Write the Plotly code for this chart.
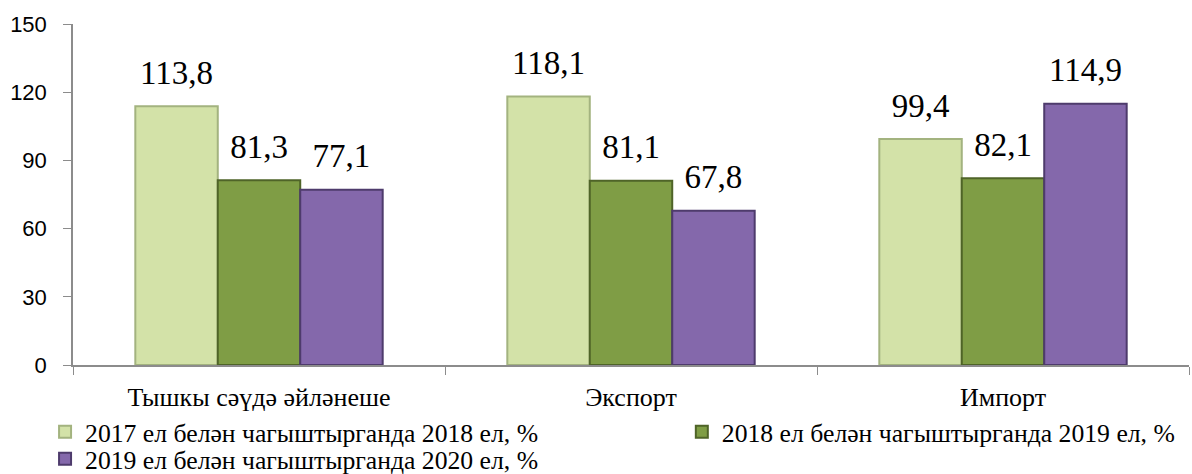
import plotly.graph_objects as go

categories = ["Тышкы сәүдә әйләнеше", "Экспорт", "Импорт"]
series_names = [
    "2017 ел белән чагыштырганда 2018 ел, %",
    "2018 ел белән чагыштырганда 2019 ел, %",
    "2019 ел белән чагыштырганда 2020 ел, %",
]
values_2018 = [113.8, 118.1, 99.4]
values_2019 = [81.3, 81.1, 82.1]
values_2020 = [77.1, 67.8, 114.9]
y_ticks = [0, 30, 60, 90, 120, 150]

fills = ["#d3e2a8", "#7f9d45", "#8468ab"]
edges = ["#a3b37f", "#4f6428", "#4e3b6c"]
legend_ids = ["legend", "legend2", "legend3"]

all_values = [values_2018, values_2019, values_2020]

fig = go.Figure()
for name, vals, fc, ec, lg in zip(series_names, all_values, fills, edges, legend_ids):
    fig.add_trace(go.Bar(
        x=categories, y=vals, name=name,
        marker=dict(color=fc, line=dict(color=ec, width=2)),
        legend=lg, offsetgroup=name,
    ))
# value labels (invisible markers set the gap above each bar)
for name, vals in zip(series_names, all_values):
    fig.add_trace(go.Scatter(
        x=categories, y=vals, mode="markers+text",
        text=[f"{v:.1f}".replace(".", ",") for v in vals],
        textposition="top center",
        textfont=dict(family="Liberation Serif", size=33, color="#000000"),
        marker=dict(size=21, color="rgba(0,0,0,0)"),
        offsetgroup=name, showlegend=False, hoverinfo="skip",
        cliponaxis=False,
    ))

legend_font = dict(family="Liberation Serif", size=25.7, color="#000000")
common_legend = dict(
    xref="container", yref="container", xanchor="left", yanchor="middle",
    font=legend_font, bgcolor="rgba(0,0,0,0)", itemwidth=30,
)

fig.update_layout(
    width=1192, height=474,
    margin=dict(l=73, r=3, t=24, b=109, autoexpand=False),
    paper_bgcolor="white", plot_bgcolor="white",
    barmode="group", bargap=0.335, bargroupgap=0,
    scattermode="group", scattergap=0.335,
    showlegend=True,
    legend=dict(x=0.0378, y=0.0886, **common_legend),
    legend2=dict(x=0.572, y=0.0886, **common_legend),
    legend3=dict(x=0.0378, y=0.0316, **common_legend),
    xaxis=dict(
        showline=True, linecolor="#8c8c8c", linewidth=1.5,
        ticks="outside", tickson="boundaries", ticklen=8, tickcolor="#8c8c8c",
        tickfont=dict(family="Liberation Serif", size=26, color="#000000"),
        ticklabelstandoff=8, automargin=False,
        showgrid=False,
    ),
    yaxis=dict(
        range=[0, 150], tickvals=y_ticks,
        showline=True, linecolor="#8c8c8c", linewidth=1.5,
        ticks="outside", ticklen=8, tickcolor="#8c8c8c",
        tickfont=dict(family="Liberation Sans", size=22, color="#000000"),
        ticklabelstandoff=12, automargin=False,
        showgrid=False, zeroline=False,
    ),
)

fig.write_html(
    "out.html",
    config={"displayModeBar": False},
    post_script="document.body.style.margin='0';document.body.style.padding='0';",
)
